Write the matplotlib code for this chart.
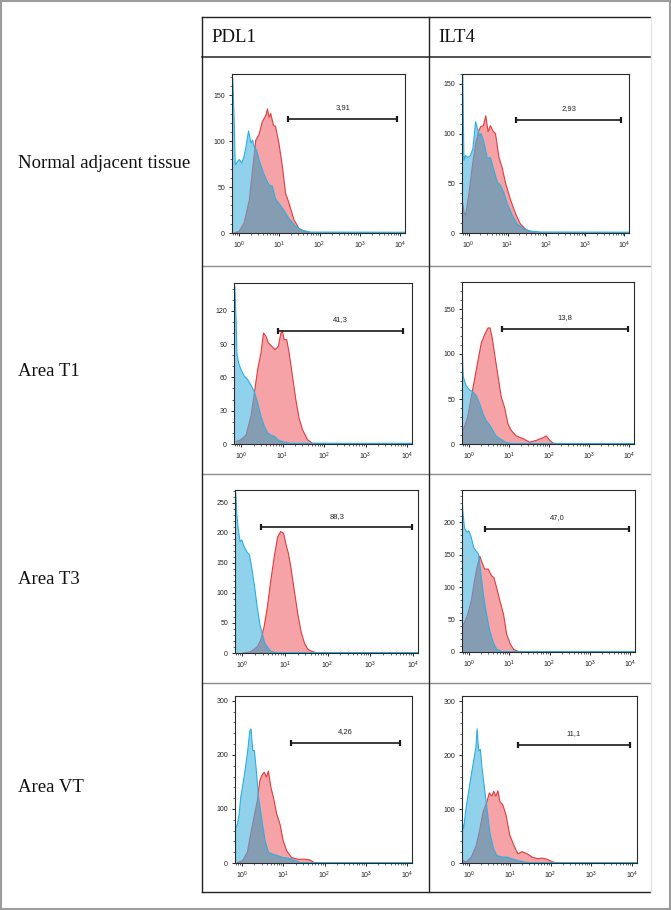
import numpy as np
import matplotlib
matplotlib.use("Agg")
import matplotlib.pyplot as plt
from matplotlib.lines import Line2D
from matplotlib.patches import Rectangle
from matplotlib.ticker import FixedLocator, FixedFormatter, LogLocator, NullFormatter, AutoMinorLocator

# ---------------- text ----------------
markers = ["PDL1", "ILT4"]
tissues = ["Normal adjacent tissue", "Area T1", "Area T3", "Area VT"]

# ---------------- data: log10 fluorescence intensity / cell count ----------------
# blue = control (isotype), red = stained
nat_pdl1_ctrl_log = [-0.15, -0.115, -0.09, -0.03, 0.01, 0.07, 0.12, 0.17, 0.24, 0.30, 0.34, 0.38, 0.44, 0.50, 0.58, 0.66, 0.75, 0.83, 0.91, 1.08, 1.24, 1.41, 1.57, 1.78, 4.15]
nat_pdl1_ctrl_cnt = [168, 120, 74, 78, 80, 76, 82, 92, 111, 98, 101, 94, 90, 80, 69, 60, 52, 51, 37, 27, 16, 7, 3, 1, 0.8]
nat_pdl1_stain_log = [-0.12, 0.01, 0.13, 0.26, 0.34, 0.42, 0.50, 0.58, 0.67, 0.71, 0.75, 0.79, 0.86, 0.91, 1.00, 1.08, 1.16, 1.24, 1.37, 1.49, 1.61, 1.78, 4.15]
nat_pdl1_stain_cnt = [0, 2, 11, 36, 69, 101, 107, 121, 128, 135, 126, 130, 117, 116, 96, 72, 43, 33, 14, 5, 2, 0, 0]

nat_ilt4_ctrl_log = [-0.15, -0.12, -0.08, -0.02, 0.05, 0.11, 0.18, 0.22, 0.28, 0.32, 0.39, 0.48, 0.56, 0.65, 0.74, 0.82, 0.91, 0.99, 1.12, 1.25, 1.42, 1.59, 1.85, 4.15]
nat_ilt4_ctrl_cnt = [160, 73, 78, 76, 78, 85, 112, 106, 98, 100, 92, 75, 76, 63, 51, 48, 40, 30, 18, 9, 4, 2, 1, 0.8]
nat_ilt4_stain_log = [-0.15, -0.12, -0.08, 0.01, 0.09, 0.18, 0.25, 0.31, 0.38, 0.44, 0.50, 0.56, 0.62, 0.69, 0.78, 0.86, 0.95, 1.08, 1.21, 1.33, 1.46, 1.59, 1.76, 4.15]
nat_ilt4_stain_cnt = [30, 21, 18, 40, 66, 90, 102, 107, 108, 118, 102, 108, 103, 100, 76, 66, 50, 33, 19, 9, 4, 1, 0, 0]

t1_pdl1_ctrl_log = [-0.15, -0.12, -0.10, -0.06, 0.0, 0.08, 0.16, 0.24, 0.32, 0.40, 0.48, 0.56, 0.64, 0.72, 0.80, 0.88, 1.0, 1.2, 4.15]
t1_pdl1_ctrl_cnt = [142, 112, 82, 73, 67, 61, 58, 53, 47, 37, 25, 16, 10, 8, 7, 4, 2, 0.6, 0.6]
t1_pdl1_stain_log = [-0.12, 0.0, 0.12, 0.24, 0.32, 0.40, 0.48, 0.54, 0.60, 0.66, 0.74, 0.82, 0.90, 0.96, 1.0, 1.04, 1.10, 1.16, 1.24, 1.32, 1.40, 1.48, 1.60, 1.72, 4.15]
t1_pdl1_stain_cnt = [2, 4, 8, 25, 46, 67, 82, 100, 97, 91, 88, 85, 88, 100, 101, 94, 94, 82, 61, 40, 23, 13, 4, 0.6, 0]

t1_ilt4_ctrl_log = [-0.17, -0.16, -0.14, -0.07, 0.02, 0.10, 0.18, 0.27, 0.35, 0.43, 0.52, 0.60, 0.68, 0.77, 0.85, 0.93, 1.10, 4.15]
t1_ilt4_ctrl_cnt = [179, 101, 75, 65, 60, 58, 54, 45, 34, 26, 21, 15, 9, 6, 4, 1.5, 0.5, 0.5]
t1_ilt4_stain_log = [-0.17, -0.11, -0.03, 0.06, 0.14, 0.23, 0.31, 0.39, 0.48, 0.53, 0.58, 0.64, 0.73, 0.81, 0.89, 0.98, 1.06, 1.18, 1.35, 1.52, 1.68, 1.85, 1.93, 2.02, 2.10, 2.27, 4.15]
t1_ilt4_stain_cnt = [15, 19, 30, 52, 71, 93, 112, 121, 129, 129, 119, 101, 75, 52, 41, 22, 15, 9, 6, 2, 4, 7, 9, 4, 1, 0, 0]

t3_pdl1_ctrl_log = [-0.15, -0.13, -0.09, -0.05, -0.01, 0.03, 0.11, 0.17, 0.23, 0.29, 0.35, 0.41, 0.47, 0.52, 0.59, 0.67, 0.79, 4.15]
t3_pdl1_ctrl_cnt = [266, 232, 204, 185, 188, 179, 168, 163, 138, 110, 77, 49, 32, 18, 10, 3, 0.6, 0.6]
t3_pdl1_stain_log = [0.03, 0.19, 0.35, 0.43, 0.51, 0.59, 0.67, 0.75, 0.83, 0.90, 0.97, 1.02, 1.08, 1.14, 1.22, 1.30, 1.38, 1.46, 1.54, 1.66, 1.78, 4.15]
t3_pdl1_stain_cnt = [0, 2, 10, 21, 43, 77, 121, 160, 193, 202, 199, 182, 166, 143, 104, 66, 35, 16, 6, 2, 0, 0]

t3_ilt4_ctrl_log = [-0.17, -0.15, -0.11, -0.05, 0.0, 0.06, 0.12, 0.18, 0.24, 0.31, 0.37, 0.44, 0.52, 0.61, 0.69, 0.82, 4.15]
t3_ilt4_ctrl_cnt = [244, 218, 192, 185, 187, 177, 161, 156, 151, 115, 84, 58, 32, 14, 4, 0.5, 0.5]
t3_ilt4_stain_log = [-0.17, -0.11, -0.03, 0.06, 0.14, 0.20, 0.27, 0.34, 0.39, 0.48, 0.56, 0.62, 0.69, 0.77, 0.86, 0.94, 1.03, 1.11, 1.24, 4.15]
t3_ilt4_stain_cnt = [43, 45, 58, 79, 110, 130, 148, 136, 128, 128, 118, 115, 99, 79, 58, 27, 12, 4, 0.5, 0]

vt_pdl1_ctrl_log = [-0.15, -0.11, -0.07, -0.03, 0.05, 0.13, 0.19, 0.22, 0.26, 0.30, 0.34, 0.40, 0.48, 0.56, 0.64, 0.72, 0.84, 1.0, 1.12, 1.24, 1.40, 1.56, 4.15]
vt_pdl1_ctrl_cnt = [66, 72, 91, 122, 159, 202, 245, 248, 208, 208, 177, 122, 80, 41, 20, 17, 14, 10, 9, 6, 1, 0.5, 0.5]
vt_pdl1_stain_log = [-0.11, 0.01, 0.13, 0.21, 0.29, 0.37, 0.43, 0.48, 0.54, 0.59, 0.64, 0.70, 0.76, 0.84, 0.92, 1.0, 1.08, 1.20, 1.36, 1.52, 1.63, 1.75, 1.87, 4.15]
vt_pdl1_stain_cnt = [1, 4, 20, 54, 85, 115, 152, 162, 168, 159, 170, 140, 122, 91, 72, 41, 23, 10, 7, 7, 6, 1, 0, 0]

vt_ilt4_ctrl_log = [-0.17, -0.13, -0.07, 0.02, 0.10, 0.17, 0.20, 0.24, 0.28, 0.32, 0.39, 0.45, 0.51, 0.60, 0.68, 0.80, 0.93, 1.05, 1.18, 1.34, 1.51, 4.15]
vt_ilt4_ctrl_cnt = [77, 64, 102, 146, 183, 214, 249, 208, 211, 177, 133, 96, 58, 27, 14, 11, 11, 8, 5, 2, 0.5, 0.5]
vt_ilt4_stain_log = [-0.17, -0.07, 0.06, 0.18, 0.27, 0.35, 0.43, 0.50, 0.56, 0.61, 0.66, 0.71, 0.76, 0.83, 0.91, 1.0, 1.10, 1.20, 1.30, 1.43, 1.55, 1.68, 1.80, 1.91, 2.05, 2.17, 4.15]
vt_ilt4_stain_cnt = [5, 2, 11, 33, 64, 96, 111, 130, 124, 133, 124, 134, 114, 108, 89, 52, 33, 17, 21, 17, 11, 8, 9, 7, 2, 0, 0]

# gates (marker-positive region), order: nat-PDL1, nat-ILT4, T1-PDL1, T1-ILT4, T3-PDL1, T3-ILT4, VT-PDL1, VT-ILT4
gate_start_log = [1.23, 1.23, 0.89, 0.84, 0.45, 0.41, 1.19, 1.20]
gate_end_log = [3.93, 3.92, 3.91, 3.97, 3.98, 3.97, 3.83, 3.95]
gate_level = [124, 114, 102, 128, 209, 190, 222, 219]
gate_percent = ["3,91", "2,93", "41,3", "13,8", "88,3", "47,0", "4,26", "11,1"]

# y axis scales per panel
y_top = [173, 160, 145, 180, 271, 250, 309, 310]
y_step = [50, 50, 30, 50, 50, 50, 100, 100]
y_tick_max = [150, 150, 120, 150, 250, 200, 300, 300]
x_decades = [0, 1, 2, 3, 4]

ctrl_logs = [nat_pdl1_ctrl_log, nat_ilt4_ctrl_log, t1_pdl1_ctrl_log, t1_ilt4_ctrl_log,
             t3_pdl1_ctrl_log, t3_ilt4_ctrl_log, vt_pdl1_ctrl_log, vt_ilt4_ctrl_log]
ctrl_cnts = [nat_pdl1_ctrl_cnt, nat_ilt4_ctrl_cnt, t1_pdl1_ctrl_cnt, t1_ilt4_ctrl_cnt,
             t3_pdl1_ctrl_cnt, t3_ilt4_ctrl_cnt, vt_pdl1_ctrl_cnt, vt_ilt4_ctrl_cnt]
stain_logs = [nat_pdl1_stain_log, nat_ilt4_stain_log, t1_pdl1_stain_log, t1_ilt4_stain_log,
              t3_pdl1_stain_log, t3_ilt4_stain_log, vt_pdl1_stain_log, vt_ilt4_stain_log]
stain_cnts = [nat_pdl1_stain_cnt, nat_ilt4_stain_cnt, t1_pdl1_stain_cnt, t1_ilt4_stain_cnt,
              t3_pdl1_stain_cnt, t3_ilt4_stain_cnt, vt_pdl1_stain_cnt, vt_ilt4_stain_cnt]

# ---------------- layout (pixels) ----------------
W, H = 671, 910
axes_px = [(232, 405, 74, 233), (462, 629, 74, 233),
           (234, 412, 283, 444), (462, 634, 282, 444),
           (235, 418, 490, 653), (462, 635, 490, 652),
           (235, 412, 696, 863), (462, 637, 696, 863)]

blue_fill = "#90d2ec"
blue_line = "#27b1e3"
red_fill = "#f5a3a6"
red_line = "#e23a3d"
overlap_fill = "#859db3"
overlap_line = "#8f7fa0"

serif = ["Liberation Serif", "DejaVu Serif"]
sans = ["Liberation Sans", "DejaVu Sans"]

fig = plt.figure(figsize=(W / 100, H / 100), dpi=100)
fig.patch.set_facecolor("white")


def fx(x):
    return x / W


def fy(y):
    return 1 - y / H


def hline(y, x0, x1, color, lw):
    fig.add_artist(Line2D([fx(x0), fx(x1)], [fy(y), fy(y)], transform=fig.transFigure, color=color, lw=lw))


def vline(x, y0, y1, color, lw):
    fig.add_artist(Line2D([fx(x), fx(x)], [fy(y0), fy(y1)], transform=fig.transFigure, color=color, lw=lw))


# outer border
fig.add_artist(Rectangle((fx(1), fy(909)), (W - 2) / W, (H - 2) / H, transform=fig.transFigure,
                         fill=False, edgecolor="#9c9c9c", lw=1.5))

# table grid
hline(17, 202, 650, "#222222", 1.0)
hline(57, 202, 650, "#444444", 1.3)
for yy in [266, 474, 683]:
    hline(yy, 202, 650, "#8c8c8c", 1.0)
hline(892, 202, 650, "#222222", 1.0)
vline(202, 17, 892, "#222222", 1.0)
vline(429, 17, 892, "#222222", 1.0)
vline(651, 17, 892, "#e6e6e6", 1.0)

# header text
for m, xx in zip(markers, [211, 438]):
    fig.text(fx(xx), fy(37), m, family=serif, fontsize=13.5, ha="left", va="center", color="#111111")
for t, yy in zip(tissues, [163, 371, 579, 787]):
    fig.text(fx(18), fy(yy), t, family=serif, fontsize=13.5, ha="left", va="center", color="#111111")

for i in range(8):
    x0, x1, y0, y1 = axes_px[i]
    ax = fig.add_axes([fx(x0), fy(y1), (x1 - x0) / W, (y1 - y0) / H])
    ax.set_xscale("log")
    ax.set_xlim(10 ** -0.17, 10 ** 4.12)
    ax.set_ylim(0, y_top[i])

    xs = 10.0 ** np.array(stain_logs[i])
    ys = np.array(stain_cnts[i], dtype=float)
    xc = 10.0 ** np.array(ctrl_logs[i])
    yc = np.array(ctrl_cnts[i], dtype=float)

    ax.fill_between(xs, ys, 0, facecolor=red_fill, lw=0, zorder=1)
    ax.plot(xs, ys, color=red_line, lw=0.8, zorder=2)
    bpoly = ax.fill_between(xc, yc, 0, facecolor=blue_fill, lw=0, zorder=3)
    bpath = bpoly.get_paths()[0]
    ov = ax.fill_between(xs, ys, 0, facecolor=overlap_fill, lw=0, zorder=4)
    ov.set_clip_path(bpath, ax.transData)
    ovl, = ax.plot(xs, ys, color=overlap_line, lw=0.8, zorder=4.5)
    ovl.set_clip_path(bpath, ax.transData)
    ax.plot(xc, yc, color=blue_line, lw=0.8, zorder=5)

    # gate
    gx = [10 ** gate_start_log[i], 10 ** gate_end_log[i]]
    ax.plot(gx, [gate_level[i], gate_level[i]], color="#1a1a1a", lw=1.2, zorder=6,
            marker="|", markersize=5, markeredgewidth=1.6)
    mid = 10 ** ((gate_start_log[i] + gate_end_log[i]) / 2)
    ax.annotate(gate_percent[i], (mid, gate_level[i]), xytext=(0, 5.5), textcoords="offset points",
                ha="center", va="bottom", fontsize=5.5, family=sans, color="#222222")

    # axes styling
    for s in ax.spines.values():
        s.set_color("#2a2a2a")
        s.set_linewidth(0.8)
        s.set_zorder(7)
    ax.xaxis.set_major_locator(FixedLocator([10.0 ** d for d in x_decades]))
    ax.xaxis.set_major_formatter(FixedFormatter([r"$\mathregular{10^{%d}}$" % d for d in x_decades]))
    ax.xaxis.set_minor_locator(LogLocator(base=10, subs=np.arange(2, 10), numticks=20))
    ax.xaxis.set_minor_formatter(NullFormatter())
    ax.yaxis.set_major_locator(FixedLocator(list(range(0, y_tick_max[i] + 1, y_step[i]))))
    ax.yaxis.set_minor_locator(AutoMinorLocator(5 if y_step[i] != 30 else 3))
    ax.tick_params(axis="both", which="major", direction="out", length=2.5, width=0.7,
                   color="#2a2a2a", labelsize=5, labelcolor="#222222", pad=2.5)
    ax.tick_params(axis="both", which="minor", direction="out", length=1.4, width=0.5, color="#2a2a2a")
    for lab in ax.get_xticklabels() + ax.get_yticklabels():
        lab.set_family(sans)

fig.savefig("out.png", dpi=100, facecolor="white")
